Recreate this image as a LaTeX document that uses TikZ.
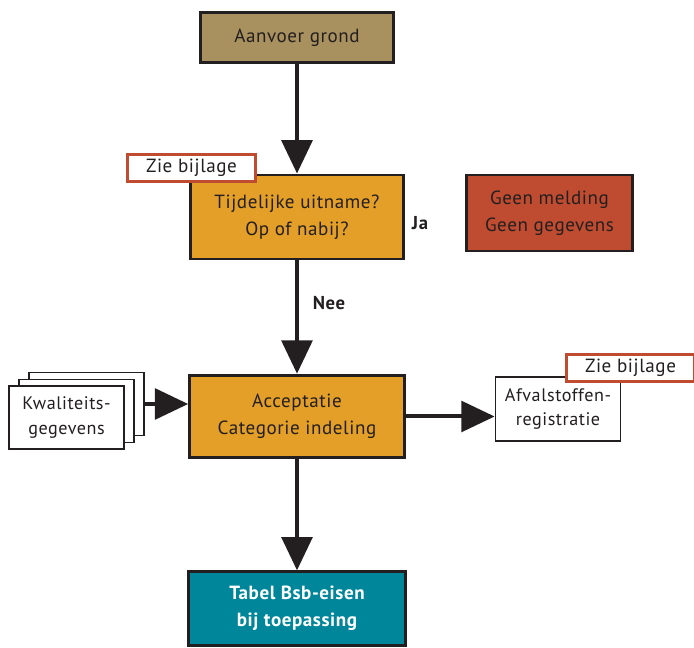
\documentclass[tikz,border=0pt]{standalone}
\usepackage{fontspec}
\setmainfont{PT Sans}[LetterSpace=3]
\usetikzlibrary{positioning,arrows.meta}

\definecolor{grondkleur}{HTML}{A8915F}
\definecolor{oranje}{HTML}{E39F28}
\definecolor{steenrood}{HTML}{BF4C30}
\definecolor{petrol}{HTML}{00869A}
\definecolor{inkt}{HTML}{231F20}

\tikzset{
    stapbox/.style={rectangle, draw=inkt, line width=2.2pt, align=center, text=inkt, font=\fontsize{14.3}{20}\selectfont},
    papier/.style={rectangle, draw=inkt, line width=1.1pt, fill=white, align=center, text=inkt, font=\fontsize{13.6}{18.5}\selectfont},
    bijlage/.style={rectangle, draw=steenrood, line width=2.2pt, fill=white, text=inkt, minimum width=96pt, minimum height=20pt, font=\fontsize{14.3}{16}\selectfont},
    pijl/.style={-{Triangle[length=25pt,width=23pt]}, line width=3pt, draw=inkt},
    oordeel/.style={text=inkt, font=\bfseries\fontsize{14}{16}\selectfont}
}

\begin{document}
\begin{tikzpicture}[x=0.75pt, y=-0.75pt]
        \def\kolom{297}

        \useasboundingbox (0, 0) rectangle (694, 648);

        \node[stapbox, fill=grondkleur, minimum width=145pt, minimum height=37pt] (aanvoer) at (\kolom, 37.5) {Aanvoer grond};
        \node[stapbox, fill=oranje, minimum width=160pt, minimum height=63pt] (uitname) at (\kolom, 217) {Tijdelijke uitname?\\Op of nabij?};
        \node[stapbox, fill=steenrood, minimum width=124pt, minimum height=57pt] (melding) at (549.5, 213) {Geen melding\\Geen gegevens};
        \node[stapbox, fill=oranje, minimum width=161pt, minimum height=62pt] (acceptatie) at (\kolom, 416.5) {Acceptatie\\Categorie indeling};
        \node[stapbox, fill=petrol, text=white, font=\bfseries\fontsize{14.3}{20}\selectfont, minimum width=163pt, minimum height=55pt] (tabel) at (\kolom, 608.5) {Tabel Bsb-eisen\\bij toepassing};

        \node[papier, minimum width=86pt, minimum height=47pt] (kwal3) at (86.5, 404) {};
        \node[papier, minimum width=86pt, minimum height=47pt] (kwal2) at (76.5, 411) {};
        \node[papier, minimum width=86pt, minimum height=47pt] (kwal1) at (66.5, 417.5) {Kwaliteits-\\gegevens};
        \node[papier, minimum width=94pt, minimum height=48pt] (afval) at (558, 409) {Afvalstoffen-\\registratie};

        \node[bijlage] (bijlage1) at (191.5, 168) {Zie bijlage};
        \node[bijlage] (bijlage2) at (630.5, 368) {Zie bijlage};

        \node[oordeel] (ja) at (420, 223) {Ja};
        \node[oordeel] (nee) at (329, 303) {Nee};

        \draw[pijl] (aanvoer) -- (uitname);
        \draw[pijl] (uitname) -- (acceptatie);
        \draw[pijl] (acceptatie) -- (tabel);
        \draw[pijl] (kwal3.east) -- (kwal3.east -| acceptatie.west);
        \draw[pijl] (acceptatie.east) -- (acceptatie.east -| afval.west);
    \end{tikzpicture}
\end{document}
